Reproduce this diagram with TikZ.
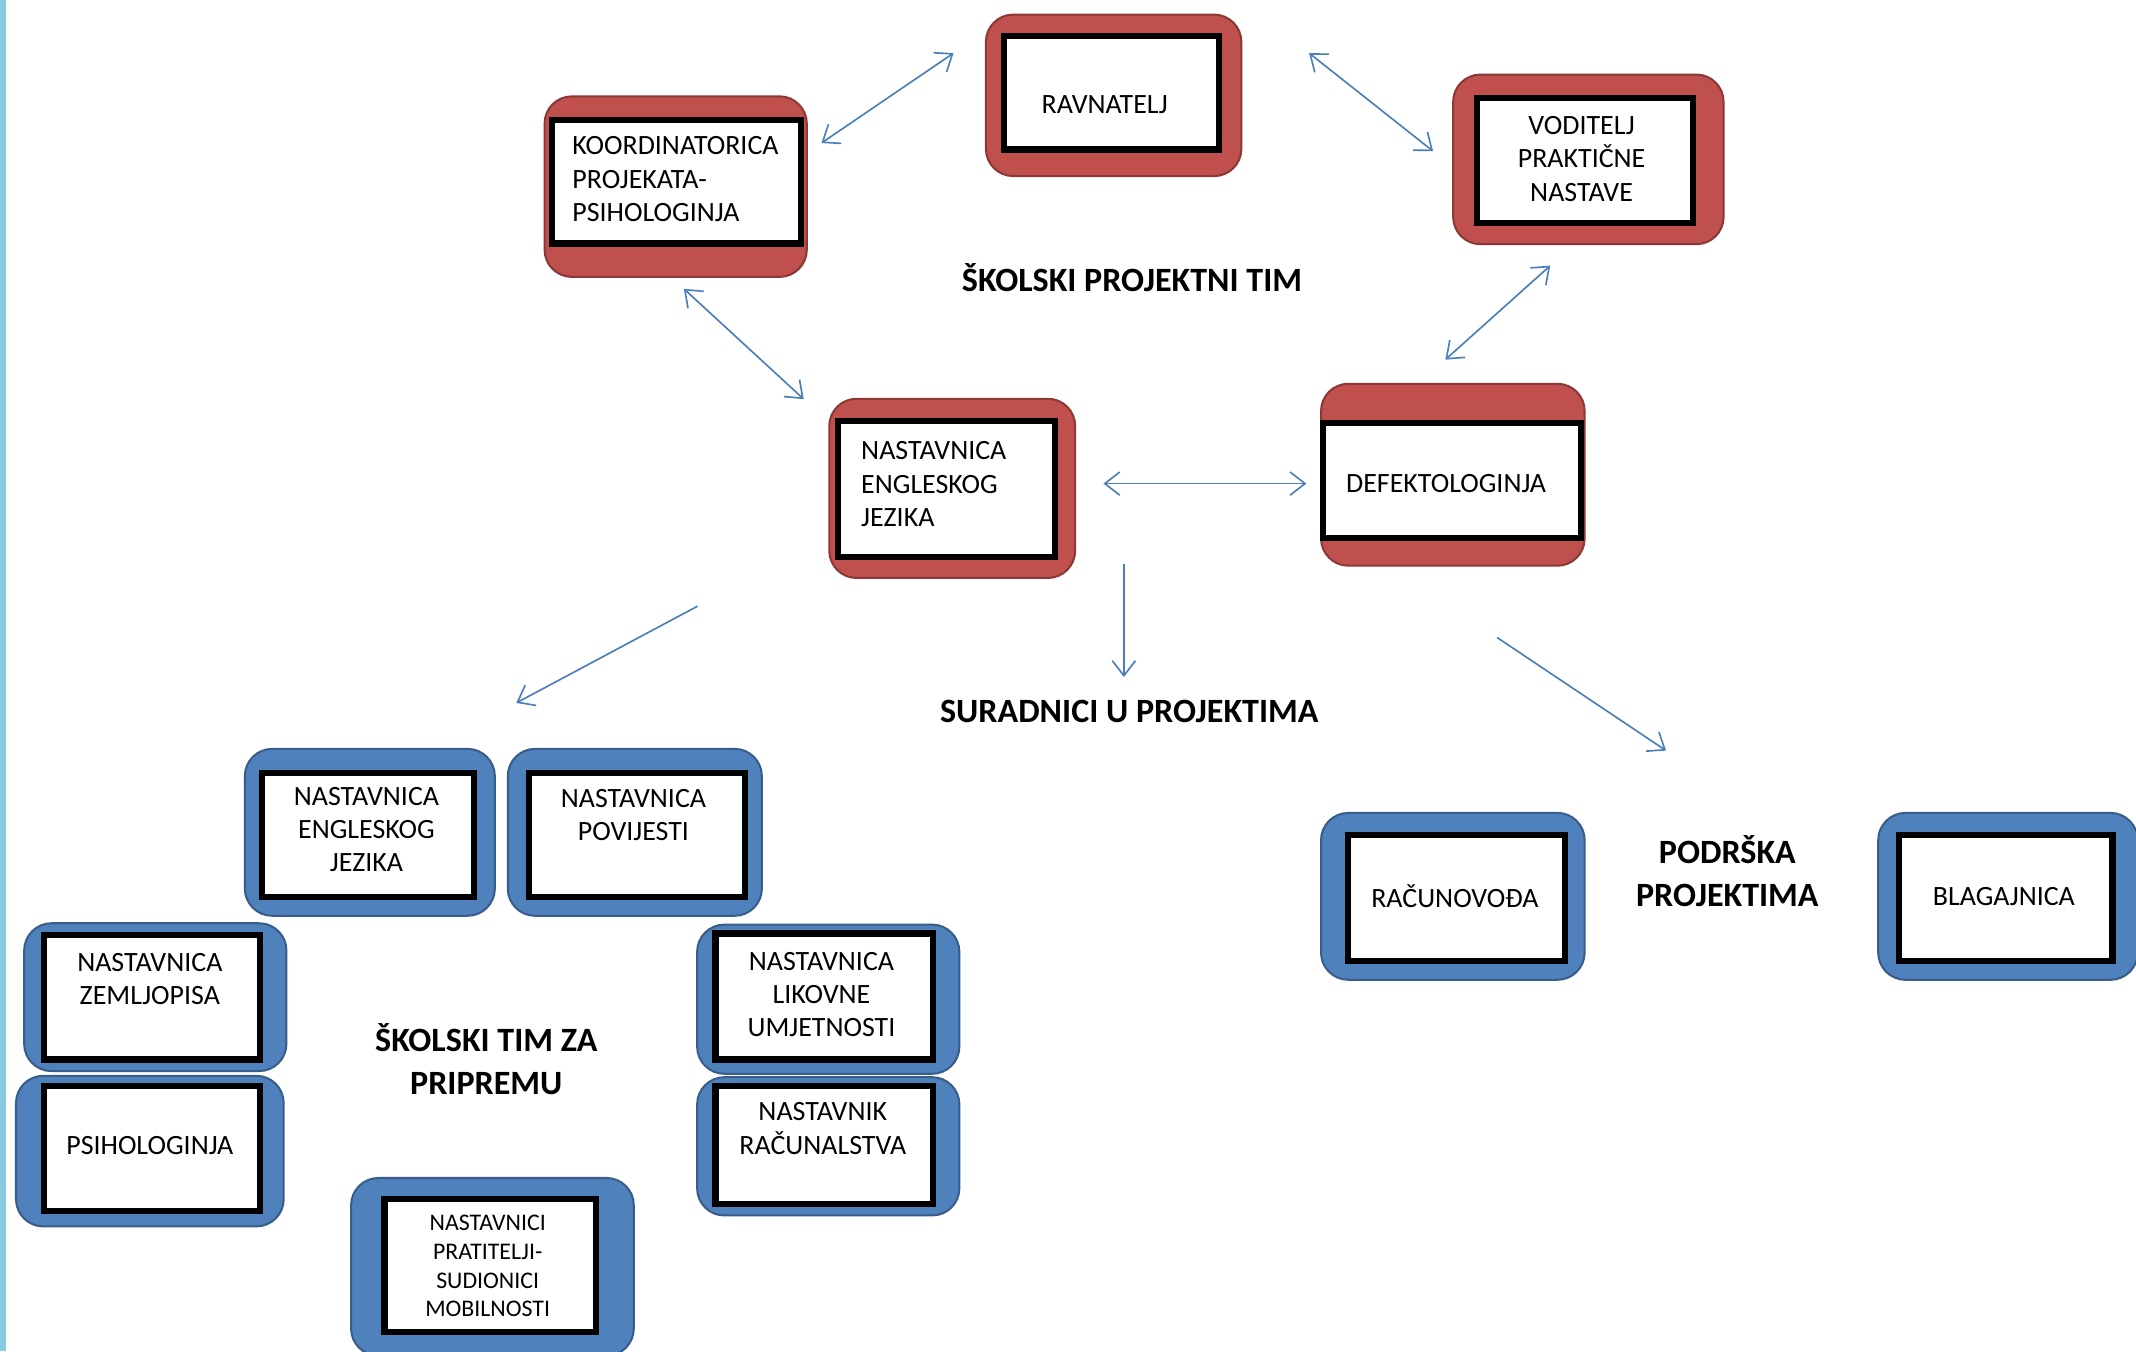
\documentclass[tikz,border=0pt]{standalone}
\usepackage{fontspec}
\setmainfont{Carlito}
\usetikzlibrary{arrows.meta}
\definecolor{redF}{HTML}{C0504D}
\definecolor{redD}{HTML}{8C3836}
\definecolor{bluF}{HTML}{4F81BD}
\definecolor{bluD}{HTML}{385D8A}
\definecolor{arr}{HTML}{4A7EBB}
\definecolor{strip}{HTML}{86CBDF}
\begin{document}
\begin{tikzpicture}[x=1pt,y=-1pt,
 redO/.style={draw=redD, fill=redF, line width=1.5pt, rounded corners=20pt, inner sep=0pt},
 bluO/.style={draw=bluD, fill=bluF, line width=1.5pt, rounded corners=20pt, inner sep=0pt},
 inbox/.style={draw=black, fill=white, line width=4.5pt, inner sep=0pt},
 txt/.style={font=\fontsize{20.5}{24.5}\selectfont, inner sep=0pt},
 small/.style={font=\fontsize{17.5}{21}\selectfont, inner sep=0pt, align=center},
 ttl/.style={font=\fontsize{25}{31}\selectfont\bfseries, inner sep=0pt, align=center},
 tip/.style={Straight Barb[length=11pt,width=17pt]},
 link/.style={draw=arr, line width=1.2pt, {Straight Barb[length=11pt,width=17pt]}-{Straight Barb[length=11pt,width=17pt]}},
 one/.style={draw=arr, line width=1.2pt, -{Straight Barb[length=11pt,width=17pt]}},
]
\clip (0,0) rectangle (1568,992);
\fill[white] (0,0) rectangle (1568,992);
\fill[strip] (0,0) rectangle (4.5,992);

% ---- red group ----
\node[redO, minimum width=192.5pt, minimum height=132.5pt] (koordO) at (496,137) {};
\node[inbox, minimum width=182.5pt, minimum height=90.5pt] (koord) at (496.5,133.5) {};
\node[txt, align=left, anchor=west] (koordT) at (420,131.5) {KOORDINATORICA\\PROJEKATA-\\PSIHOLOGINJA};

\node[redO, minimum width=187.5pt, minimum height=118.5pt] (ravO) at (817.5,70) {};
\node[inbox, minimum width=157.5pt, minimum height=83.5pt] (rav) at (816,68) {};
\node[txt] (ravT) at (811,77) {RAVNATELJ};

\node[redO, minimum width=198.5pt, minimum height=124.5pt] (vodO) at (1166,117) {};
\node[inbox, minimum width=158.5pt, minimum height=91.5pt] (vod) at (1163.5,118) {};
\node[txt, align=center] (vodT) at (1161,116.5) {VODITELJ\\PRAKTIČNE\\NASTAVE};

\node[redO, minimum width=180.5pt, minimum height=131.5pt] (engrO) at (699,358.5) {};
\node[inbox, minimum width=159.5pt, minimum height=99.5pt] (engr) at (695,359) {};
\node[txt, align=left, anchor=west] (engrT) at (632,355.5) {NASTAVNICA\\ENGLESKOG\\JEZIKA};

\node[redO, minimum width=193.5pt, minimum height=133.5pt] (defO) at (1066.5,348.5) {};
\node[inbox, minimum width=189.5pt, minimum height=84.5pt] (def) at (1066,352.5) {};
\node[txt, anchor=west] (defT) at (988,355) {DEFEKTOLOGINJA};

\node[ttl] (t1) at (831,204) {ŠKOLSKI PROJEKTNI TIM};
\node[ttl] (t2) at (829,522) {SURADNICI U PROJEKTIMA};

% ---- arrows ----
\coordinate (a1) at (603,105); \coordinate (b1) at (700,39);
\coordinate (a2) at (961,39);  \coordinate (b2) at (1052,111);
\coordinate (a3) at (502,212); \coordinate (b3) at (590,293);
\coordinate (a4) at (1138,195); \coordinate (b4) at (1061,264);
\coordinate (a5) at (810,355); \coordinate (b5) at (959,355);
\coordinate (a6) at (825,414); \coordinate (b6) at (825,497);
\coordinate (a7) at (512,445); \coordinate (b7) at (379,516);
\coordinate (a8) at (1099,468); \coordinate (b8) at (1223,551);
\draw[link] (a1) -- (b1);
\draw[link] (a2) -- (b2);
\draw[link] (a3) -- (b3);
\draw[link] (a4) -- (b4);
\draw[link] (a5) -- (b5);
\draw[one] (a6) -- (b6);
\draw[one] (a7) -- (b7);
\draw[one] (a8) -- (b8);

% ---- blue group ----
\node[bluO, minimum width=183.5pt, minimum height=122.5pt] (engbO) at (271.5,611) {};
\node[inbox, minimum width=155.5pt, minimum height=91.5pt] (engb) at (270,613) {};
\node[txt, align=center] (engbT) at (269,609) {NASTAVNICA\\ENGLESKOG\\JEZIKA};

\node[bluO, minimum width=186.5pt, minimum height=122.5pt] (povO) at (466,611) {};
\node[inbox, minimum width=158.5pt, minimum height=91.5pt] (pov) at (467.5,613) {};
\node[txt, align=center] (povT) at (465,598.5) {NASTAVNICA\\POVIJESTI};

\node[bluO, minimum width=192.5pt, minimum height=108.5pt] (zemO) at (114,732) {};
\node[inbox, minimum width=158.5pt, minimum height=91.5pt] (zem) at (111.5,732) {};
\node[txt, align=center] (zemT) at (110,718.5) {NASTAVNICA\\ZEMLJOPISA};

\node[bluO, minimum width=196.5pt, minimum height=110.5pt] (psiO) at (110,845) {};
\node[inbox, minimum width=158.5pt, minimum height=91.5pt] (psi) at (111.5,843) {};
\node[txt] (psiT) at (110,841) {PSIHOLOGINJA};

\node[bluO, minimum width=192.5pt, minimum height=109.5pt] (likO) at (608,733.5) {};
\node[inbox, minimum width=159.5pt, minimum height=92.5pt] (lik) at (605,731.5) {};
\node[txt, align=center] (likT) at (603,730) {NASTAVNICA\\LIKOVNE\\UMJETNOSTI};

\node[bluO, minimum width=192.5pt, minimum height=101.5pt] (racO) at (608,841.5) {};
\node[inbox, minimum width=159.5pt, minimum height=86.5pt] (rac) at (605,840.5) {};
\node[txt, align=center] (racT) at (604,828.5) {NASTAVNIK\\RAČUNALSTVA};

\node[bluO, minimum width=207.5pt, minimum height=130.5pt] (mobO) at (361.5,930) {};
\node[inbox, minimum width=155.5pt, minimum height=97.5pt] (mob) at (360,929) {};
\node[small] (mobT) at (358,929.5) {NASTAVNICI\\PRATITELJI-\\SUDIONICI\\MOBILNOSTI};

\node[ttl] (t3) at (357,777.5) {ŠKOLSKI TIM ZA\\PRIPREMU};

\node[bluO, minimum width=193.5pt, minimum height=122.5pt] (racunO) at (1066.5,658) {};
\node[inbox, minimum width=159.5pt, minimum height=92.5pt] (racun) at (1069,659.5) {};
\node[txt] (racunT) at (1068,658) {RAČUNOVOĐA};

\node[bluO, minimum width=190.5pt, minimum height=122.5pt] (blagO) at (1474,658) {};
\node[inbox, minimum width=156.5pt, minimum height=92.5pt] (blag) at (1472.5,659.5) {};
\node[txt] (blagT) at (1471,658) {BLAGAJNICA};

\node[ttl] (t4) at (1268,639.5) {PODRŠKA\\PROJEKTIMA};
\end{tikzpicture}
\end{document}
